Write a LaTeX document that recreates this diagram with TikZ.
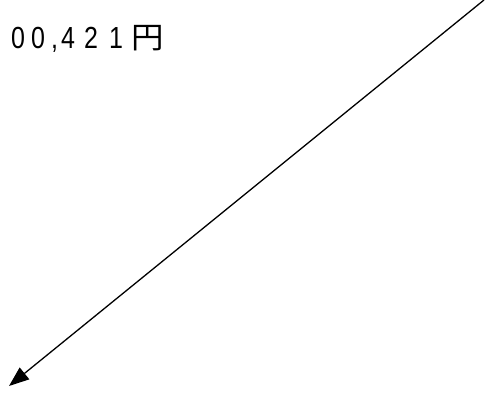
\documentclass[tikz,border=0pt]{standalone}
\usepackage{fontspec}
\setmainfont{Liberation Sans}
\newfontfamily\cjkfont{Noto Sans CJK JP}
\usetikzlibrary{arrows.meta}
\newcommand{\pricefont}{\fontsize{25pt}{28pt}\selectfont}
\tikzset{
  pricetext/.style={inner sep=0pt, anchor=base west},
  bigarrow/.style={line width=1.3pt, -{Triangle[length=20pt,width=15pt]}}
}
\newcommand{\chbox}[2]{\makebox[#1][l]{\scalebox{1}[1.22]{#2}}}
\begin{document}
\begin{tikzpicture}[x=1pt,y=1pt]
\useasboundingbox (0,0) rectangle (491,-394);
\node[pricetext] (price) at (11,-48) {\pricefont\chbox{20pt}{0}\chbox{20pt}{0}\chbox{10pt}{,}\chbox{23pt}{4}\chbox{25pt}{2}\chbox{22pt}{1}{\cjkfont\scalebox{1.3}[1.2]{円}}};
\coordinate (start) at (484,0);
\coordinate (tip) at (9,-386);
\draw[bigarrow] (start) -- (tip);
\end{tikzpicture}
\end{document}
